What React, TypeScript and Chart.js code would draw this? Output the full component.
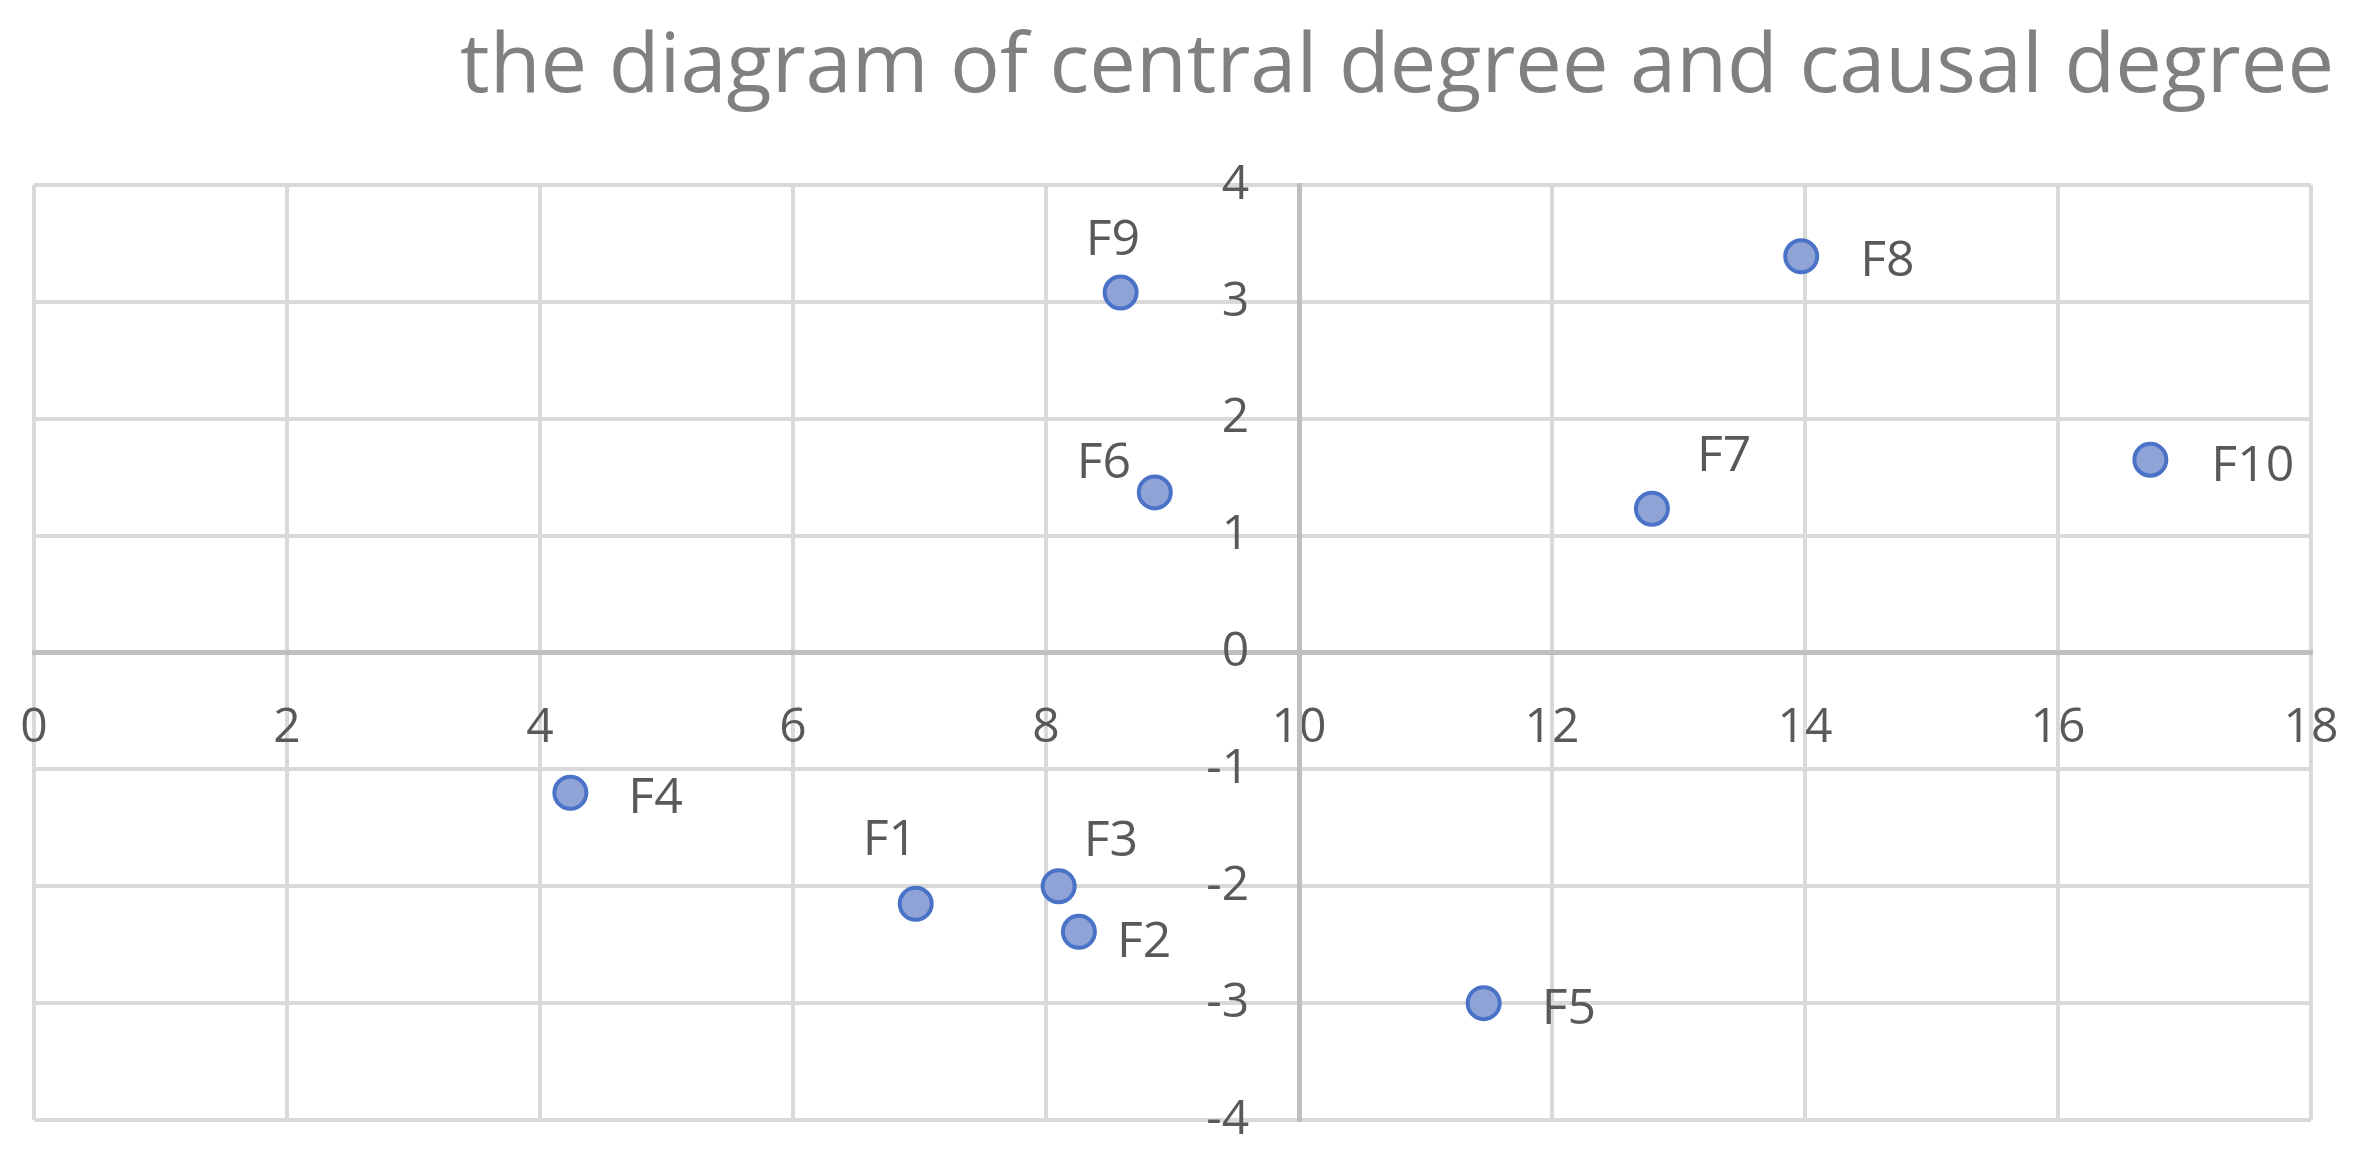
import { useEffect, useRef } from "react";
import { Chart, registerables } from "chart.js";

Chart.register(...registerables);

// ---- data ----
const factorNames = ["F1", "F2", "F3", "F4", "F5", "F6", "F7", "F8", "F9", "F10"];
const centralDegree = [6.97, 8.26, 8.1, 4.24, 11.46, 8.86, 12.79, 13.97, 8.59, 16.73];
const causalDegree = [-2.15, -2.39, -2.0, -1.2, -3.0, 1.37, 1.23, 3.39, 3.08, 1.65];
const xRange = [0, 18];
const xStep = 2;
const yRange = [-4, 4];
const yStep = 1;
const chartTitle = "the diagram of central degree and causal degree";

// ---- label placement (style: left edge dx, baseline dy from point centre) ----
const labelOffsets: [number, number][] = [
  [-53, -49],
  [38, 25],
  [25, -30],
  [58, 20],
  [58, 21],
  [-78, -14],
  [45, -38],
  [59, 20],
  [-35, -38],
  [61, 21],
];

const FONT = "'Open Sans', 'Noto Sans', sans-serif";
const TEXT = "#595959";
const GRID = "#d9d9d9";
const AXIS = "#bfbfbf";

const titlePlugin = {
  id: "rightTitle",
  afterDraw(chart: any) {
    const ctx = chart.ctx;
    ctx.save();
    ctx.font = `83px ${FONT}`;
    ctx.fillStyle = "#808080";
    ctx.textAlign = "right";
    ctx.textBaseline = "alphabetic";
    ctx.fillText(chartTitle, 2334, 92);
    ctx.restore();
  },
};

const pointLabelPlugin = {
  id: "pointLabels",
  afterDatasetsDraw(chart: any) {
    const ctx = chart.ctx;
    const meta = chart.getDatasetMeta(0);
    ctx.save();
    ctx.font = `50px ${FONT}`;
    ctx.fillStyle = TEXT;
    ctx.textAlign = "left";
    ctx.textBaseline = "alphabetic";
    meta.data.forEach((el: any, i: number) => {
      const [dx, dy] = labelOffsets[i];
      ctx.fillText(factorNames[i], el.x + dx, el.y + dy);
    });
    ctx.restore();
  },
};

const noPadding = (s: any) => {
  s.paddingLeft = 0;
  s.paddingRight = 0;
  s.paddingTop = 0;
  s.paddingBottom = 0;
};

export default function App() {
  const canvasRef = useRef<HTMLCanvasElement | null>(null);

  useEffect(() => {
    if (!canvasRef.current) return;
    const chart = new Chart(canvasRef.current, {
      type: "scatter",
      data: {
        datasets: [
          {
            label: "factors",
            data: centralDegree.map((x, i) => ({ x, y: causalDegree[i] })),
            pointRadius: 16,
            pointHoverRadius: 16,
            pointBorderWidth: 4,
            pointBackgroundColor: "#8fa3d7",
            pointBorderColor: "#4a73c8",
          },
        ],
      },
      options: {
        animation: false,
        responsive: true,
        maintainAspectRatio: false,
        devicePixelRatio: 1,
        layout: { padding: { left: 34, right: 46, top: 185, bottom: 40 } },
        plugins: {
          legend: { display: false },
          title: { display: false },
          tooltip: { enabled: false },
        },
        scales: {
          x: {
            type: "linear",
            min: xRange[0],
            max: xRange[1],
            position: { y: 0 } as any,
            afterFit: noPadding,
            ticks: {
              stepSize: xStep,
              padding: 47,
              color: TEXT,
              font: { family: FONT, size: 48 },
            },
            grid: {
              drawTicks: false,
              lineWidth: 4,
              color: (c: any) => (c.tick && c.tick.value === 10 ? AXIS : GRID),
            },
            border: { display: true, color: AXIS, width: 5 },
          },
          y: {
            type: "linear",
            min: yRange[0],
            max: yRange[1],
            position: { x: 10 } as any,
            afterFit: noPadding,
            ticks: {
              stepSize: yStep,
              padding: 0,
              color: TEXT,
              font: { family: FONT, size: 48 },
              callback: (v: any) => `${v}    `,
            },
            grid: {
              drawTicks: false,
              lineWidth: 4,
              color: (c: any) => (c.tick && c.tick.value === 0 ? AXIS : GRID),
            },
            border: { display: true, color: AXIS, width: 5 },
          },
        },
      },
      plugins: [titlePlugin, pointLabelPlugin],
    });
    return () => chart.destroy();
  }, []);

  return (
    <div style={{ position: "fixed", left: 0, top: 0, width: 2357, height: 1160, background: "#fff" }}>
      <canvas ref={canvasRef} />
    </div>
  );
}
